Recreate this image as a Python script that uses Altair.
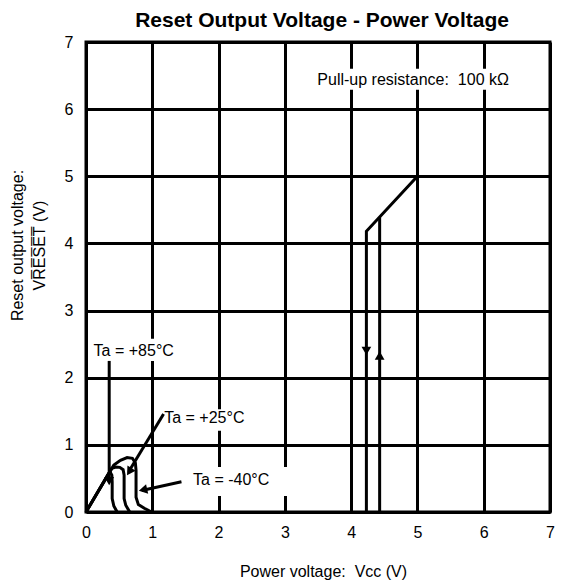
import altair as alt
import pandas as pd

FONT = "Liberation Sans"

x_ticks = [0, 1, 2, 3, 4, 5, 6, 7]
y_ticks = [0, 1, 2, 3, 4, 5, 6, 7]

# Low-voltage region curves (Ta = -40 / +25 / +85 °C)
m40_x = [0.0, 0.42, 0.52, 0.62, 0.70, 0.745, 0.755, 0.755, 0.79, 0.88, 0.99]
m40_y = [0.0, 0.70, 0.77, 0.81, 0.80, 0.73, 0.62, 0.22, 0.11, 0.055, 0.0]
p25_x = [0.0, 0.39, 0.45, 0.51, 0.56, 0.575, 0.575, 0.60, 0.66]
p25_y = [0.0, 0.65, 0.67, 0.665, 0.63, 0.55, 0.20, 0.10, 0.0]
p85_x = [0.0, 0.34, 0.37, 0.39, 0.395, 0.395, 0.42, 0.47]
p85_y = [0.0, 0.57, 0.585, 0.55, 0.45, 0.20, 0.09, 0.0]

# Hysteresis (detection / release)
down_x = [5.0, 4.23, 4.23]
down_y = [5.0, 4.18, 0.0]
up_x = [4.43, 4.43]
up_y = [0.0, 4.39]

# Pointer lines from labels
ptr85_x = [0.35, 0.35]
ptr85_y = [2.25, 0.50]
ptr25_x = [1.17, 0.65]
ptr25_y = [1.46, 0.61]
ptr40_x = [1.44, 0.84]
ptr40_y = [0.45, 0.32]

# Arrowheads
head_x = [4.23, 4.43, 0.35, 0.653, 0.86]
head_y = [2.40, 2.33, 0.46, 0.60, 0.33]
head_angle = [180, 0, 180, 212.6, 257.5]

# Labels and their white backgrounds
label_text = ["Pull-up resistance:\u00a0 100 k\u03a9", "Ta = +85\u00b0C", "Ta = +25\u00b0C", "Ta = -40\u00b0C"]
label_x = [3.49, 0.115, 1.18, 1.615]
label_y = [6.43, 2.40, 1.40, 0.48]
box_x = [3.42, 0.10, 1.19, 1.50]
box_x2 = [6.50, 1.40, 2.55, 3.12]
box_y = [6.29, 2.25, 1.21, 0.24]
box_y2 = [6.60, 2.58, 1.53, 0.67]

rows = []
for name, xs, ys in [("m40", m40_x, m40_y), ("p25", p25_x, p25_y), ("p85", p85_x, p85_y),
                     ("down", down_x, down_y), ("up", up_x, up_y),
                     ("ptr85", ptr85_x, ptr85_y), ("ptr25", ptr25_x, ptr25_y), ("ptr40", ptr40_x, ptr40_y)]:
    for i, (a, b) in enumerate(zip(xs, ys)):
        rows.append({"x": a, "y": b, "series": name, "order": i})
lines_df = pd.DataFrame(rows)
heads_df = pd.DataFrame({"x": head_x, "y": head_y, "angle": head_angle})
labels_df = pd.DataFrame({"x": label_x, "y": label_y, "text": label_text})
boxes_df = pd.DataFrame({"x": box_x, "x2": box_x2, "y": box_y, "y2": box_y2})

xscale = alt.Scale(domain=[0, 7], nice=False, zero=False)
yscale = alt.Scale(domain=[0, 7], nice=False, zero=False)
xaxis = alt.Axis(values=x_ticks, grid=True, gridColor="black", gridWidth=3, gridOpacity=1,
                 domain=False, ticks=False, labelFontSize=16, labelFont=FONT, labelColor="black",
                 labelPadding=12, labelFlush=False,
                 title="Power voltage:\u00a0 Vcc (V)", titleFont=FONT, titleFontSize=16,
                 titleFontWeight="normal", titleColor="black", titleX=237, titleY=51,
                 titleBaseline="top", titleAlign="center")
yaxis = alt.Axis(values=y_ticks, grid=True, gridColor="black", gridWidth=3, gridOpacity=1,
                 domain=False, ticks=False, labelFontSize=16, labelFont=FONT, labelColor="black",
                 labelPadding=13, labelFlush=False,
                 title=["Reset output voltage:", "VR\u0305E\u0305S\u0305E\u0305T\u0305 (V)"],
                 titleFont=FONT, titleFontSize=16, titleFontWeight="normal", titleColor="black",
                 titleX=-77, titleY=203, titleBaseline="top", titleAlign="center",
                 titleLineHeight=22)

X = alt.X("x:Q", scale=xscale, axis=xaxis)
Y = alt.Y("y:Q", scale=yscale, axis=yaxis)

boxes = alt.Chart(boxes_df).mark_rect(color="white", opacity=1).encode(
    x=X, x2="x2:Q", y=Y, y2="y2:Q")
lines = alt.Chart(lines_df).mark_line(color="black", strokeWidth=3).encode(
    x=X, y=Y, detail="series:N", order="order:Q")
heads = alt.Chart(heads_df).mark_point(shape="triangle-up", filled=True, color="black",
                                       size=95, opacity=1).encode(
    x=X, y=Y, angle=alt.Angle("angle:Q", scale=None))
texts = alt.Chart(labels_df).mark_text(align="left", baseline="middle", font=FONT,
                                       fontSize=16, color="black").encode(
    x=X, y=Y, text="text:N")

chart = alt.layer(boxes, lines, heads, texts).properties(
    width=464, height=470,
    autosize=alt.AutoSizeParams(type="none"),
    padding={"left": 78, "top": 34, "right": 5, "bottom": 70},
    title=alt.TitleParams("Reset Output Voltage - Power Voltage", font=FONT, fontSize=21,
                          fontWeight="bold", color="black", anchor="middle", dx=4, offset=11,
                          dy=25, baseline="alphabetic"),
    background="white",
).configure_view(stroke="black", strokeWidth=3)

chart.save("out.html", embed_options={"renderer": "svg", "actions": False})
